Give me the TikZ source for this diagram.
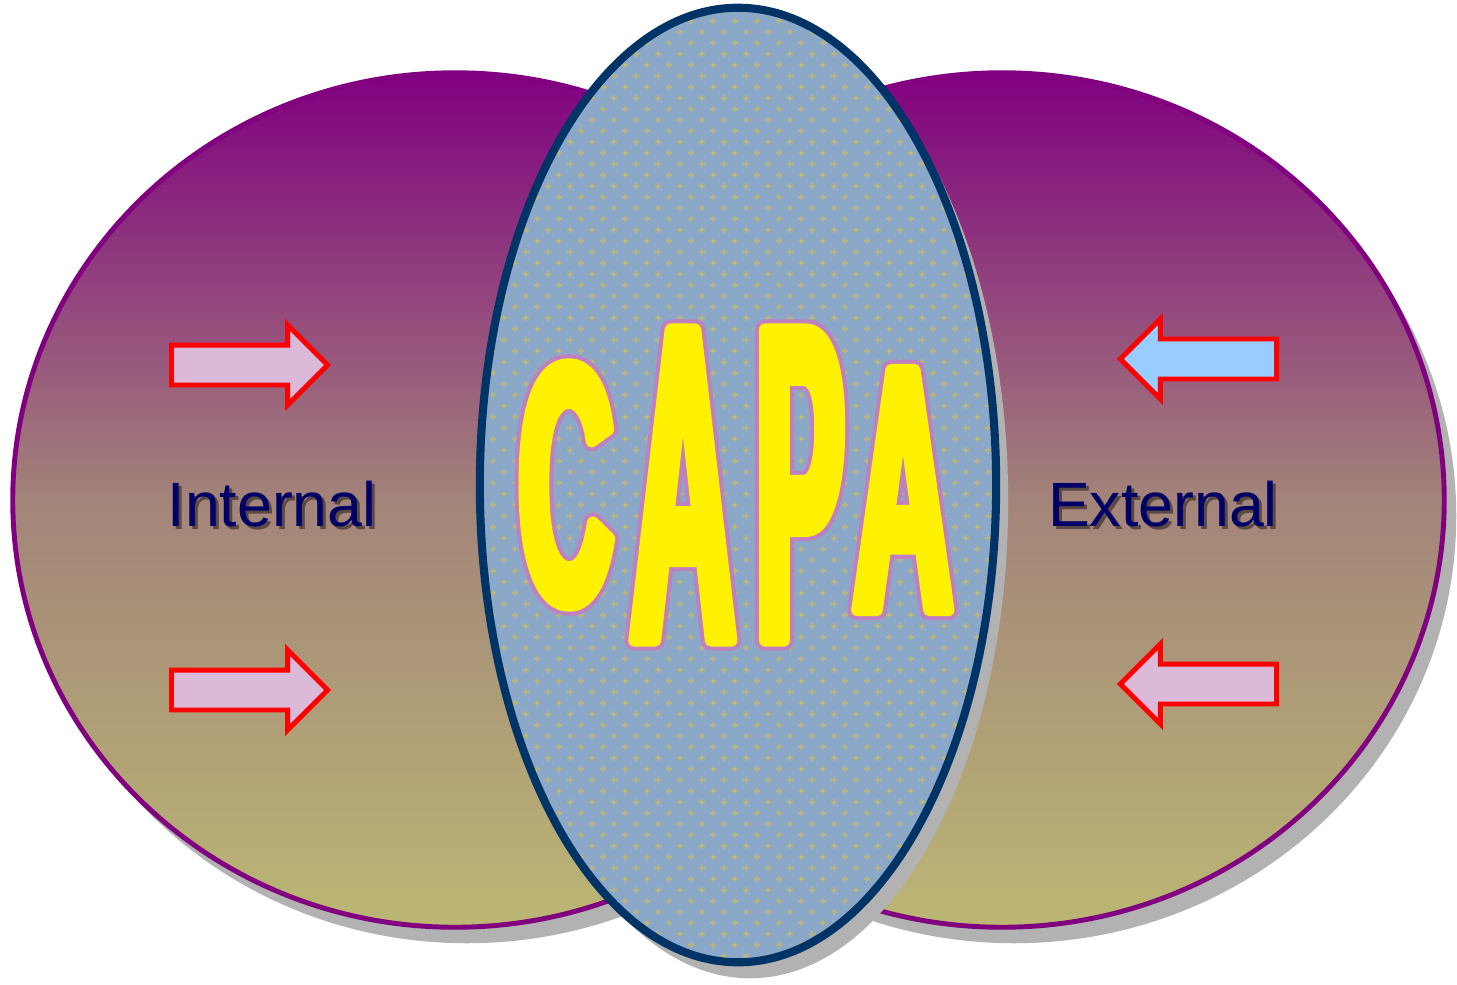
\documentclass[tikz,border=0pt]{standalone}
\usepackage{fontspec}
\setmainfont{Liberation Sans}
\usetikzlibrary{shapes.geometric,shapes.arrows}

\definecolor{elltop}{RGB}{128,0,128}
\definecolor{ellmid}{RGB}{163,132,122}
\definecolor{ellbot}{RGB}{187,183,116}
\definecolor{ellline}{RGB}{128,0,128}
\definecolor{capaline}{RGB}{0,51,102}
\definecolor{capabase}{RGB}{140,168,200}
\definecolor{capadot}{RGB}{182,180,128}
\definecolor{shadowgray}{RGB}{178,178,178}
\definecolor{arrpink}{RGB}{218,186,216}
\definecolor{arrblue}{RGB}{153,204,255}
\definecolor{labelblue}{RGB}{0,0,102}
\definecolor{artline}{RGB}{192,128,192}

% one word-art letter: pink rim behind a fake-bold yellow body
\newcommand{\artletter}[8]{% name, x, y, size, stretch, yellow bold, rim bold, letter
  \node[art, text=artline,
    font={\fontspec[FakeStretch=#5,FakeBold=#7]{Liberation Sans Bold}\fontsize{#4}{#4}\selectfont}]
    (#1rim) at (#2,#3) {#8};
  \node[art, text=yellow,
    font={\fontspec[FakeStretch=#5,FakeBold=#6]{Liberation Sans Bold}\fontsize{#4}{#4}\selectfont}]
    (#1) at (#2,#3) {#8};
}

\begin{document}
\begin{tikzpicture}[
  x=0.01cm, y=-0.01cm,
  ell/.style={ellipse, draw=ellline, line width=1.4pt, top color=elltop, bottom color=ellbot, middle color=ellmid,
    minimum width=8.84cm, minimum height=8.54cm},
  ellshadow/.style={ellipse, fill=shadowgray, minimum width=8.84cm, minimum height=8.54cm},
  capaell/.style={ellipse, minimum width=5.16cm, minimum height=9.54cm},
  arr/.style={single arrow, draw=red, line width=1.4pt, minimum height=1.56cm, single arrow head extend=0.2cm,
    inner xsep=0pt, inner ysep=0.175cm, minimum width=0pt, anchor=tail},
  lbl/.style={font=\fontsize{17.8}{20}\selectfont, text=labelblue, inner sep=0pt},
  art/.style={inner sep=0pt, line join=round}
]
  \useasboundingbox (0,0) rectangle (1457,984);

  % the two side ellipses
  \node[ellshadow] (insh) at (467,516) {};
  \node[ell] (inner) at (455,500) {};
  \node[ellshadow] (exsh) at (1014,516) {};
  \node[ell] (outer) at (1002,500) {};

  % centre ellipse with star texture
  \node[capaell, fill=shadowgray] (capash) at (750,501) {};
  \node[capaell, fill=capabase] (capa) at (738,485) {};
  \begin{scope}
    \clip (738,485) ellipse [x radius=256, y radius=475];
    \foreach \j in {0,...,87}
      \foreach \i in {0,...,24}
        \fill[capadot] ({482+22*\i+11*mod(\j,2)},{10+11*\j})
          +(-4,0) -- +(-1.2,-1.2) -- +(0,-4) -- +(1.2,-1.2) -- +(4,0) -- +(1.2,1.2) -- +(0,4) -- +(-1.2,1.2) -- cycle;
  \end{scope}
  \node[capaell, draw=capaline, line width=2.3pt] (capaedge) at (capa) {};

  % CAPA word art
  \artletter{lc}{566}{485}{97}{0.38}{3.5}{5.9}{C}
  \artletter{la}{683}{485}{128.6}{0.32}{2.64}{4.43}{A}
  \artletter{lp}{800}{485}{128.6}{0.29}{2.64}{4.43}{P}
  \artletter{lb}{903}{490}{99.3}{0.39}{3.42}{5.74}{A}

  % arrows
  \node[arr, fill=arrpink] (inarr1) at (169,365) {};
  \node[arr, fill=arrpink] (inarr2) at (169,690) {};
  \node[arr, fill=arrblue, shape border rotate=180] (exarr1) at (1279,359) {};
  \node[arr, fill=arrpink, shape border rotate=180] (exarr2) at (1279,684) {};

  % labels with drop shadow
  \node[lbl, text=black, opacity=.45] (intsh) at (275,507) {Internal};
  \node[lbl] (int) at (272,504) {Internal};
  \node[lbl, text=black, opacity=.45] (extsh) at (1166,507) {External};
  \node[lbl] (ext) at (1163,504) {External};
\end{tikzpicture}
\end{document}
